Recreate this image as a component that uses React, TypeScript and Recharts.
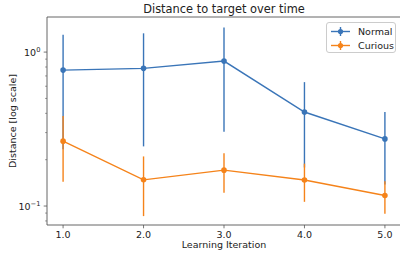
// Distance to target over time – log-scale line chart with error bars

import { LineChart, Line, XAxis, YAxis, ErrorBar, ReferenceArea } from 'recharts';

const iterations = [1, 2, 3, 4, 5];
const normalMean = [0.764, 0.784, 0.874, 0.408, 0.273];
const normalErr = [0.53, 0.54, 0.57, 0.23, 0.135];
const curiousMean = [0.264, 0.148, 0.171, 0.1475, 0.117];
const curiousErr = [0.12, 0.062, 0.049, 0.041, 0.028];

const xTicks = [1, 2, 3, 4, 5];
const yTicks = [0.08, 0.09, 0.1, 0.2, 0.3, 0.4, 0.5, 0.6, 0.7, 0.8, 0.9, 1];
const yMajor: Record<string, string> = { '0.1': '\u22121', '1': '0' };

const xDomain = [0.8, 5.2];
const yDomain = [0.0753, 1.69];

const data = iterations.map((it, i) => ({
  it,
  normal: normalMean[i],
  normalErr: normalErr[i],
  curious: curiousMean[i],
  curiousErr: curiousErr[i],
}));

const BLUE = '#3a75b8';
const ORANGE = '#f5831a';
const FRAME = '#555';
const TEXT = '#222';
const FONT = '"DejaVu Sans", sans-serif';

const W = 400;
const H = 255;
const PLOT_LEFT = 47;
const PLOT_TOP = 17;
const PLOT_BOTTOM = 225;
const PLOT_RIGHT = 401;

const XTick = (props: any) => {
  const { x, payload } = props;
  return (
    <g>
      <line x1={x} x2={x} y1={PLOT_BOTTOM} y2={PLOT_BOTTOM + 3.3} stroke={FRAME} strokeWidth={0.8} />
      <text x={x} y={237.5} textAnchor="middle" fontSize={9.5} fill={TEXT} fontFamily={FONT}>
        {Number(payload.value).toFixed(1)}
      </text>
    </g>
  );
};

const YTick = (props: any) => {
  const { y, payload } = props;
  const exp = yMajor[String(payload.value)];
  const len = exp ? 3.3 : 1.9;
  return (
    <g>
      <line x1={PLOT_LEFT - len} x2={PLOT_LEFT} y1={y} y2={y} stroke={FRAME} strokeWidth={exp ? 0.8 : 0.6} />
      {exp && (
        <text x={PLOT_LEFT - 6.6} y={y + 3.5} textAnchor="end" fontSize={9.5} fill={TEXT} fontFamily={FONT}>
          10
          <tspan dy={-4} fontSize={6.7}>{exp}</tspan>
        </text>
      )}
    </g>
  );
};

const LegendBox = () => (
  <div
    style={{
      position: 'absolute',
      left: 326,
      top: 21.5,
      width: 70,
      height: 31,
      border: '1px solid #ccc',
      borderRadius: 3,
      background: 'rgba(255,255,255,0.8)',
      boxSizing: 'border-box',
      fontFamily: FONT,
      fontSize: 9.5,
      color: TEXT,
    }}
  >
    {[
      { name: 'Normal', color: BLUE },
      { name: 'Curious', color: ORANGE },
    ].map((s, i) => (
      <div key={s.name} style={{ position: 'absolute', left: 3, top: 2 + i * 14, height: 13, display: 'flex', alignItems: 'center' }}>
        <svg width={20} height={13}>
          <line x1={1} x2={20} y1={6.5} y2={6.5} stroke={s.color} strokeWidth={1.4} />
          <line x1={10.5} x2={10.5} y1={2} y2={11} stroke={s.color} strokeWidth={1.4} />
          <circle cx={10.5} cy={6.5} r={2.6} fill={s.color} />
        </svg>
        <span style={{ marginLeft: 8, lineHeight: '13px' }}>{s.name}</span>
      </div>
    ))}
  </div>
);

export default function App() {
  return (
    <div style={{ position: 'absolute', left: 0, top: 0, width: W, height: H, background: '#fff' }}>
      <LineChart width={W} height={H} data={data} margin={{ top: PLOT_TOP, right: W - PLOT_RIGHT, bottom: 0, left: 0 }}>
        <XAxis
          dataKey="it"
          type="number"
          domain={xDomain}
          ticks={xTicks}
          allowDataOverflow
          height={H - PLOT_BOTTOM}
          axisLine={false}
          tickLine={false}
          tick={XTick}
          interval={0}
        />
        <YAxis
          type="number"
          scale="log"
          domain={yDomain}
          ticks={yTicks}
          allowDataOverflow
          width={PLOT_LEFT}
          axisLine={false}
          tickLine={false}
          tick={YTick}
          interval={0}
        />
        <ReferenceArea
          x1={xDomain[0]}
          x2={xDomain[1]}
          y1={yDomain[0]}
          y2={yDomain[1]}
          fill="none"
          stroke={FRAME}
          strokeWidth={0.9}
        />
        <Line
          dataKey="normal"
          stroke={BLUE}
          strokeWidth={1.4}
          dot={{ r: 2.8, fill: BLUE, stroke: BLUE, strokeWidth: 0 }}
          isAnimationActive={false}
        >
          <ErrorBar dataKey="normalErr" width={0} stroke={BLUE} strokeWidth={1.4} direction="y" />
        </Line>
        <Line
          dataKey="curious"
          stroke={ORANGE}
          strokeWidth={1.4}
          dot={{ r: 2.8, fill: ORANGE, stroke: ORANGE, strokeWidth: 0 }}
          isAnimationActive={false}
        >
          <ErrorBar dataKey="curiousErr" width={0} stroke={ORANGE} strokeWidth={1.4} direction="y" />
        </Line>
      </LineChart>
      <div
        style={{
          position: 'absolute',
          left: (PLOT_LEFT + PLOT_RIGHT) / 2,
          top: 2.5,
          transform: 'translateX(-50%)',
          whiteSpace: 'nowrap',
          fontFamily: FONT,
          fontSize: 11.4,
          color: TEXT,
          lineHeight: '13px',
        }}
      >
        Distance to target over time
      </div>
      <div
        style={{
          position: 'absolute',
          left: (PLOT_LEFT + PLOT_RIGHT) / 2,
          top: 239,
          transform: 'translateX(-50%)',
          whiteSpace: 'nowrap',
          fontFamily: FONT,
          fontSize: 9.5,
          color: TEXT,
          lineHeight: '11px',
        }}
      >
        Learning Iteration
      </div>
      <div
        style={{
          position: 'absolute',
          left: 11.5,
          top: (PLOT_TOP + PLOT_BOTTOM) / 2,
          transform: 'translate(-50%, -50%) rotate(-90deg)',
          whiteSpace: 'nowrap',
          fontFamily: FONT,
          fontSize: 9.5,
          color: TEXT,
          lineHeight: '11px',
        }}
      >
        Distance [log scale]
      </div>
      <LegendBox />
    </div>
  );
}
